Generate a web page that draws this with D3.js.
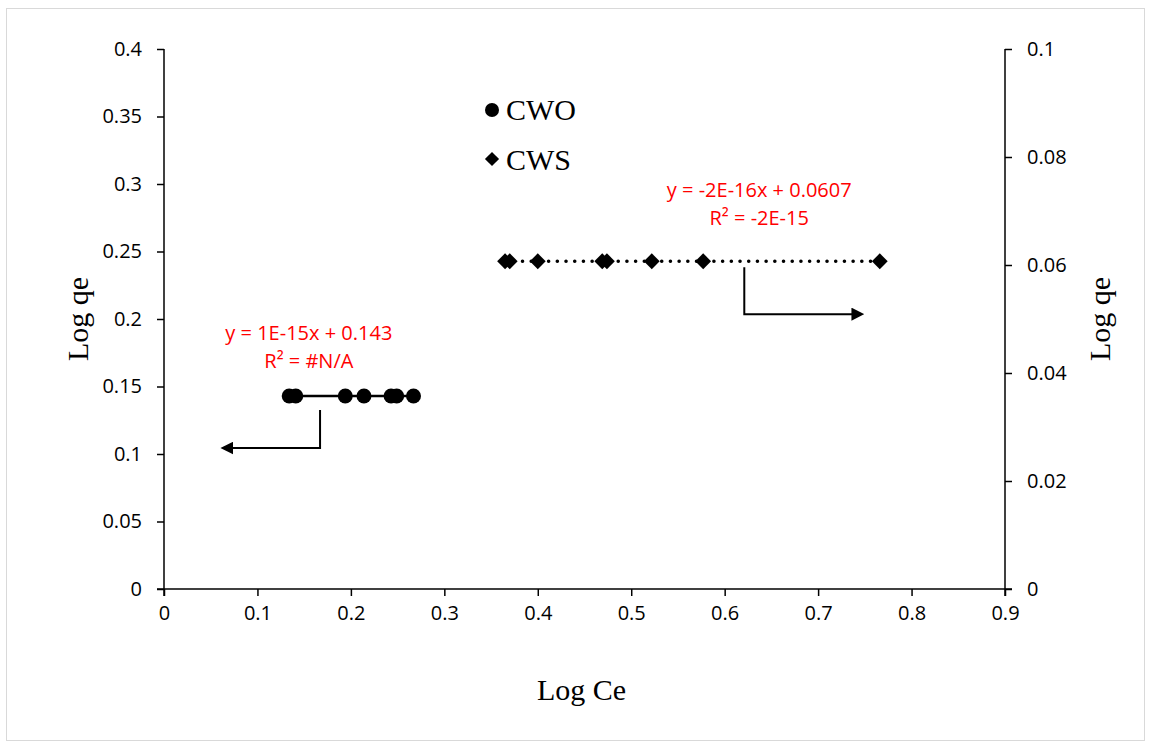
<!DOCTYPE html>
<html>
<head>
<meta charset="utf-8">
<script src="https://cdn.jsdelivr.net/npm/d3@7"></script>
<style>
  body { margin: 0; background: #fff; }
  .tick text { font-family: "Open Sans", sans-serif; font-size: 20px; fill: #000; }
  .serif { font-family: "Liberation Serif", "Times New Roman", serif; font-size: 30px; fill: #000; }
  .eq { font-family: "Open Sans", sans-serif; font-size: 20px; fill: #ff0000; }
</style>
</head>
<body>
<div id="chart"></div>
<script>
const width = 1151;
const height = 744;

// data
const cwoX = [0.134, 0.141, 0.194, 0.214, 0.243, 0.249, 0.267];
const cwoY = [0.143, 0.143, 0.143, 0.143, 0.143, 0.143, 0.143];
const cwsX = [0.365, 0.370, 0.400, 0.469, 0.474, 0.522, 0.577, 0.766];
const cwsY = [0.0607, 0.0607, 0.0607, 0.0607, 0.0607, 0.0607, 0.0607, 0.0607];

const xTicks = [0, 0.1, 0.2, 0.3, 0.4, 0.5, 0.6, 0.7, 0.8, 0.9];
const yTicks = [0, 0.05, 0.1, 0.15, 0.2, 0.25, 0.3, 0.35, 0.4];
const y2Ticks = [0, 0.02, 0.04, 0.06, 0.08, 0.1];

// arrow annotations, in data units
const cwoArrow = [[0.167, 0.1326], [0.167, 0.1044], [0.059, 0.1044]];
const cwsArrow = [[0.621, 0.0596], [0.621, 0.0509], [0.751, 0.0509]];

const margin = { left: 164, right: 146, top: 49, bottom: 155 };
const plotW = width - margin.left - margin.right;
const plotH = height - margin.top - margin.bottom;

const svg = d3.select('#chart')
  .append('svg')
  .attr('width', width)
  .attr('height', height);

svg.append('rect')
  .attr('x', 6.5).attr('y', 8.5)
  .attr('width', 1138).attr('height', 732)
  .attr('fill', '#fff')
  .attr('stroke', '#d9d9d9');

const g = svg.append('g')
  .attr('transform', `translate(${margin.left},${margin.top})`);

const x = d3.scaleLinear().domain([0, 0.9]).range([0, plotW]);
const y = d3.scaleLinear().domain([0, 0.4]).range([plotH, 0]);
const y2 = d3.scaleLinear().domain([0, 0.1]).range([plotH, 0]);

const fmt = d => String(+d.toFixed(3));

const xAxis = g.append('g')
  .attr('transform', `translate(0,${plotH})`)
  .call(d3.axisBottom(x).tickValues(xTicks).tickFormat(fmt).tickSize(7).tickPadding(10).tickSizeOuter(0));

const yAxis = g.append('g')
  .call(d3.axisLeft(y).tickValues(yTicks).tickFormat(fmt).tickSize(7).tickPadding(15).tickSizeOuter(0));

const y2Axis = g.append('g')
  .attr('transform', `translate(${plotW},0)`)
  .call(d3.axisRight(y2).tickValues(y2Ticks).tickFormat(fmt).tickSize(7).tickPadding(15).tickSizeOuter(0));

[xAxis, yAxis, y2Axis].forEach(a => {
  a.selectAll('path, line').attr('stroke', '#000').attr('stroke-width', 1.5);
  a.select('.domain').remove();
});
// axis lines drawn separately so ends meet cleanly
g.append('line').attr('x1', -7).attr('x2', plotW + 7).attr('y1', plotH).attr('y2', plotH)
  .attr('stroke', '#000').attr('stroke-width', 1.5);
g.append('line').attr('x1', 0).attr('x2', 0).attr('y1', 0).attr('y2', plotH + 7)
  .attr('stroke', '#000').attr('stroke-width', 1.5);
g.append('line').attr('x1', plotW).attr('x2', plotW).attr('y1', 0).attr('y2', plotH + 7)
  .attr('stroke', '#000').attr('stroke-width', 1.5);

// trendlines
g.append('line')
  .attr('x1', x(d3.min(cwoX))).attr('x2', x(d3.max(cwoX)))
  .attr('y1', y(0.143)).attr('y2', y(0.143))
  .attr('stroke', '#000').attr('stroke-width', 2.5);

g.append('line')
  .attr('x1', x(d3.min(cwsX))).attr('x2', x(d3.max(cwsX)))
  .attr('y1', y2(0.0607)).attr('y2', y2(0.0607))
  .attr('stroke', '#000').attr('stroke-width', 3.5)
  .attr('stroke-linecap', 'round')
  .attr('stroke-dasharray', '0.1 8.6');

// points
g.selectAll('circle.cwo')
  .data(cwoX)
  .enter()
  .append('circle')
  .attr('class', 'cwo')
  .attr('cx', d => x(d))
  .attr('cy', (d, i) => y(cwoY[i]))
  .attr('r', 7.5)
  .attr('fill', '#000');

const diamond = d3.symbol().type(d3.symbolSquare).size(125);
g.selectAll('path.cws')
  .data(cwsX)
  .enter()
  .append('path')
  .attr('class', 'cws')
  .attr('d', diamond)
  .attr('transform', (d, i) => `translate(${x(d)},${y2(cwsY[i])}) rotate(45)`)
  .attr('fill', '#000');

// arrows
const defs = svg.append('defs');
defs.append('marker')
  .attr('id', 'arrow')
  .attr('viewBox', '0 0 10 10')
  .attr('refX', 1).attr('refY', 5)
  .attr('markerWidth', 6.5).attr('markerHeight', 6.5)
  .attr('markerUnits', 'strokeWidth')
  .attr('orient', 'auto')
  .append('path')
  .attr('d', 'M0,0 L10,5 L0,10 Z')
  .attr('fill', '#000');

const arrowLine = (pts, ys) => {
  const last = pts[pts.length - 1];
  const prev = pts[pts.length - 2];
  const dir = Math.sign(x(last[0]) - x(prev[0]));
  const pxPts = pts.map(p => [x(p[0]), ys(p[1])]);
  // shorten last segment so the marker tip lands on the end point
  pxPts[pxPts.length - 1][0] -= dir * 13;
  g.append('path')
    .attr('d', d3.line()(pxPts))
    .attr('fill', 'none')
    .attr('stroke', '#000')
    .attr('stroke-width', 2)
    .attr('marker-end', 'url(#arrow)');
};
arrowLine(cwoArrow, y);
arrowLine(cwsArrow, y2);

// trendline equations
const eqs = [
  { lines: ['y = 1E-15x + 0.143', 'R² = #N/A'], cx: 0.155, cy: 0.1845 },
  { lines: ['y = -2E-16x + 0.0607', 'R² = -2E-15'], cx: 0.637, cy: 0.0726, right: true }
];
eqs.forEach(e => {
  const ys = e.right ? y2 : y;
  e.lines.forEach((t, i) => {
    g.append('text')
      .attr('class', 'eq')
      .attr('x', x(e.cx))
      .attr('y', ys(e.cy) + i * 28)
      .attr('text-anchor', 'middle')
      .text(t);
  });
});

// legend
const legend = g.append('g').attr('transform', `translate(${492 - margin.left},${110 - margin.top})`);
legend.append('circle').attr('cx', 0).attr('cy', 0).attr('r', 7).attr('fill', '#000');
legend.append('text').attr('class', 'serif').attr('x', 14).attr('y', 10).text('CWO');
legend.append('path').attr('d', d3.symbol().type(d3.symbolSquare).size(100))
  .attr('transform', 'translate(0,49) rotate(45)').attr('fill', '#000');
legend.append('text').attr('class', 'serif').attr('x', 14).attr('y', 60).text('CWS');

// axis titles
svg.append('text')
  .attr('class', 'serif')
  .attr('x', margin.left + plotW / 2 - 3)
  .attr('y', 700)
  .attr('text-anchor', 'middle')
  .text('Log Ce');

svg.append('text')
  .attr('class', 'serif')
  .attr('transform', `translate(88,${margin.top + plotH / 2}) rotate(-90)`)
  .attr('text-anchor', 'middle')
  .text('Log qe');

svg.append('text')
  .attr('class', 'serif')
  .attr('transform', `translate(1110,${margin.top + plotH / 2}) rotate(-90)`)
  .attr('text-anchor', 'middle')
  .text('Log qe');
</script>
</body>
</html>
